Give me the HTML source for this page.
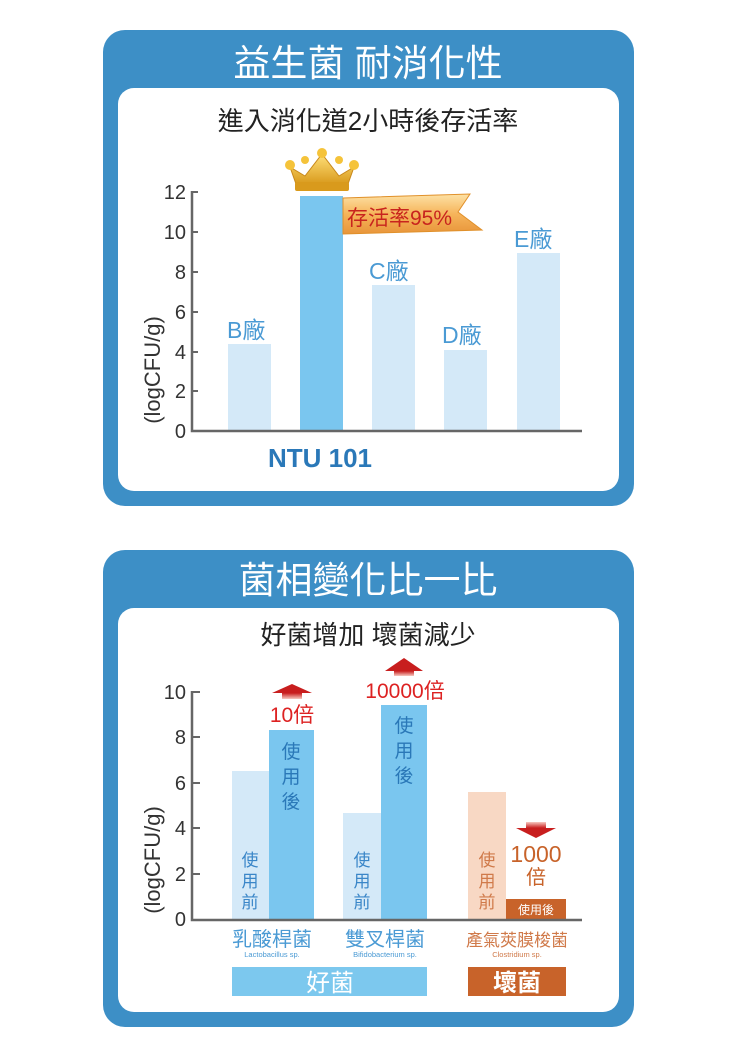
<!DOCTYPE html>
<html><head><meta charset="utf-8"><style>
html,body{margin:0;padding:0;background:#fff;}
svg{display:block;font-family:"Liberation Sans","Noto Sans CJK TC",sans-serif;}
</style></head><body>
<svg width="750" height="1052" viewBox="0 0 750 1052" xmlns="http://www.w3.org/2000/svg">
<defs>
<linearGradient id="ban" x1="0" y1="0" x2="0" y2="1"><stop offset="0" stop-color="#fde2a6"/><stop offset="0.5" stop-color="#f6b45a"/><stop offset="1" stop-color="#e8953a"/></linearGradient>
<linearGradient id="crown" x1="0" y1="0" x2="0" y2="1"><stop offset="0" stop-color="#ffe07a"/><stop offset="1" stop-color="#d99a1c"/></linearGradient>
<linearGradient id="arr" x1="0" y1="0" x2="0" y2="1"><stop offset="0" stop-color="#c81e1e"/><stop offset="1" stop-color="#f7c9c0"/></linearGradient>
<linearGradient id="arrd" x1="0" y1="0" x2="0" y2="1"><stop offset="0" stop-color="#f7c9c0"/><stop offset="1" stop-color="#c81e1e"/></linearGradient>
</defs>
<!-- Panel 1 -->
<rect x="103" y="30" width="531" height="476" rx="22" fill="#3d8fc6"/>
<rect x="118" y="88" width="501" height="403" rx="16" fill="#fff"/>
<text x="368" y="76" font-size="37" fill="#fff" text-anchor="middle">益生菌 耐消化性</text>
<text x="368" y="130" font-size="26" fill="#222" text-anchor="middle">進入消化道2小時後存活率</text>
<rect x="228" y="344" width="43" height="86" fill="#d4e9f8"/>
<rect x="300" y="196" width="43" height="234" fill="#7ac6ef"/>
<rect x="372" y="285" width="43" height="145" fill="#d4e9f8"/>
<rect x="444" y="350" width="43" height="80" fill="#d4e9f8"/>
<rect x="517" y="253" width="43" height="177" fill="#d4e9f8"/>
<g stroke="#666" stroke-width="2.5" fill="none"><path d="M192 191 V431 H582"/></g>
<g stroke="#666" stroke-width="2"><line x1="192" y1="192" x2="198" y2="192"/><line x1="192" y1="232" x2="198" y2="232"/><line x1="192" y1="272" x2="198" y2="272"/><line x1="192" y1="312" x2="198" y2="312"/><line x1="192" y1="352" x2="198" y2="352"/><line x1="192" y1="391" x2="198" y2="391"/></g>
<g font-size="20" fill="#333" text-anchor="end"><text x="186" y="199">12</text><text x="186" y="239">10</text><text x="186" y="279">8</text><text x="186" y="319">6</text><text x="186" y="359">4</text><text x="186" y="398">2</text><text x="186" y="438">0</text></g>
<text transform="translate(160,370) rotate(-90)" font-size="22" fill="#333" text-anchor="middle" font-weight="300">(logCFU/g)</text>
<g font-size="23" fill="#4a9ad4"><text x="227" y="338">B廠</text><text x="369" y="279">C廠</text><text x="442" y="343">D廠</text><text x="514" y="247">E廠</text></g>
<text x="320" y="467" font-size="26" font-weight="bold" fill="#2a78b8" text-anchor="middle">NTU 101</text>
<path d="M343 198 L470 194 L458 212 L482 230 L343 234 Z" fill="url(#ban)" stroke="#e0902a" stroke-width="1"/>
<text x="347" y="225" font-size="21" fill="#c8241e">存活率95%</text>
<!-- crown -->
<path d="M290 167 L305 176 L322 154 L339 176 L354 167 L348 184 L296 184 Z" fill="url(#crown)" stroke="#c8881a" stroke-width="1"/>
<rect x="295" y="182" width="54" height="9" rx="2" fill="#d99a1c"/>
<circle cx="290" cy="165" r="5" fill="#f5c33a"/><circle cx="305" cy="160" r="4" fill="#f5c33a"/><circle cx="322" cy="153" r="5" fill="#f5c33a"/><circle cx="339" cy="160" r="4" fill="#f5c33a"/><circle cx="354" cy="165" r="5" fill="#f5c33a"/>

<!-- Panel 2 -->
<rect x="103" y="550" width="531" height="477" rx="22" fill="#3d8fc6"/>
<rect x="118" y="608" width="501" height="404" rx="16" fill="#fff"/>
<text x="368" y="593" font-size="37" fill="#fff" text-anchor="middle">菌相變化比一比</text>
<text x="368" y="644" font-size="26" fill="#222" text-anchor="middle">好菌增加 壞菌減少</text>
<rect x="232" y="771" width="37" height="148" fill="#d4e9f8"/>
<rect x="269" y="730" width="45" height="189" fill="#7ac6ef"/>
<rect x="343" y="813" width="38" height="106" fill="#d4e9f8"/>
<rect x="381" y="705" width="46" height="214" fill="#7ac6ef"/>
<rect x="468" y="792" width="38" height="127" fill="#f8d8c4"/>
<rect x="506" y="899" width="60" height="20" fill="#c8632a"/>
<g stroke="#666" stroke-width="2.5" fill="none"><path d="M192 691 V920 H582"/></g>
<g stroke="#666" stroke-width="2"><line x1="192" y1="692" x2="200" y2="692"/><line x1="192" y1="737" x2="200" y2="737"/><line x1="192" y1="783" x2="200" y2="783"/><line x1="192" y1="828" x2="200" y2="828"/><line x1="192" y1="874" x2="200" y2="874"/></g>
<g font-size="20" fill="#333" text-anchor="end"><text x="186" y="699">10</text><text x="186" y="744">8</text><text x="186" y="790">6</text><text x="186" y="835">4</text><text x="186" y="881">2</text><text x="186" y="926">0</text></g>
<text transform="translate(160,860) rotate(-90)" font-size="22" fill="#333" text-anchor="middle">(logCFU/g)</text>
<g font-size="17" fill="#3a86c8" text-anchor="middle"><text x="250" y="866">使</text><text x="250" y="887">用</text><text x="250" y="908">前</text><text x="362" y="866">使</text><text x="362" y="887">用</text><text x="362" y="908">前</text></g>
<g font-size="19" fill="#2a78b8" text-anchor="middle"><text x="291" y="758">使</text><text x="291" y="783">用</text><text x="291" y="808">後</text><text x="404" y="732">使</text><text x="404" y="757">用</text><text x="404" y="782">後</text></g>
<g font-size="17" fill="#d07a4a" text-anchor="middle"><text x="487" y="866">使</text><text x="487" y="887">用</text><text x="487" y="908">前</text></g>
<text x="536" y="914" font-size="12" fill="#fff" text-anchor="middle">使用後</text>
<path d="M272 693 L292 684 L312 693 Z" fill="#c81e1e"/><rect x="282" y="693" width="20" height="6" fill="url(#arr)"/>
<text x="292" y="722" font-size="21" fill="#d22" text-anchor="middle">10倍</text>
<path d="M385 671 L404 658 L423 671 Z" fill="#c81e1e"/><rect x="394" y="671" width="20" height="5" fill="url(#arr)"/>
<text x="405" y="698" font-size="21" fill="#d22" text-anchor="middle">10000倍</text>
<rect x="526" y="822" width="20" height="6" fill="url(#arrd)"/><path d="M516 828 L536 838 L556 828 Z" fill="#c81e1e"/>
<text x="536" y="862" font-size="23" fill="#c8632a" text-anchor="middle">1000</text>
<text x="536" y="884" font-size="20" fill="#c8632a" text-anchor="middle">倍</text>
<g font-size="20" text-anchor="middle"><text x="272" y="946" fill="#4a9ad4">乳酸桿菌</text><text x="385" y="946" fill="#4a9ad4">雙叉桿菌</text><text x="517" y="946" fill="#d07a4a" font-size="17">產氣莢膜梭菌</text></g>
<g font-size="7.5" text-anchor="middle"><text x="272" y="957" fill="#4a9ad4">Lactobacillus sp.</text><text x="385" y="957" fill="#4a9ad4">Bifidobacterium sp.</text><text x="517" y="957" fill="#d07a4a">Clostridium sp.</text></g>
<rect x="232" y="967" width="195" height="29" fill="#7cc8ee"/>
<rect x="468" y="967" width="98" height="29" fill="#c8632a"/>
<text x="330" y="991" font-size="24" fill="#fff" text-anchor="middle">好菌</text>
<text x="517" y="991" font-size="24" fill="#fff" text-anchor="middle" font-weight="bold">壞菌</text>
</svg>
</body></html>
